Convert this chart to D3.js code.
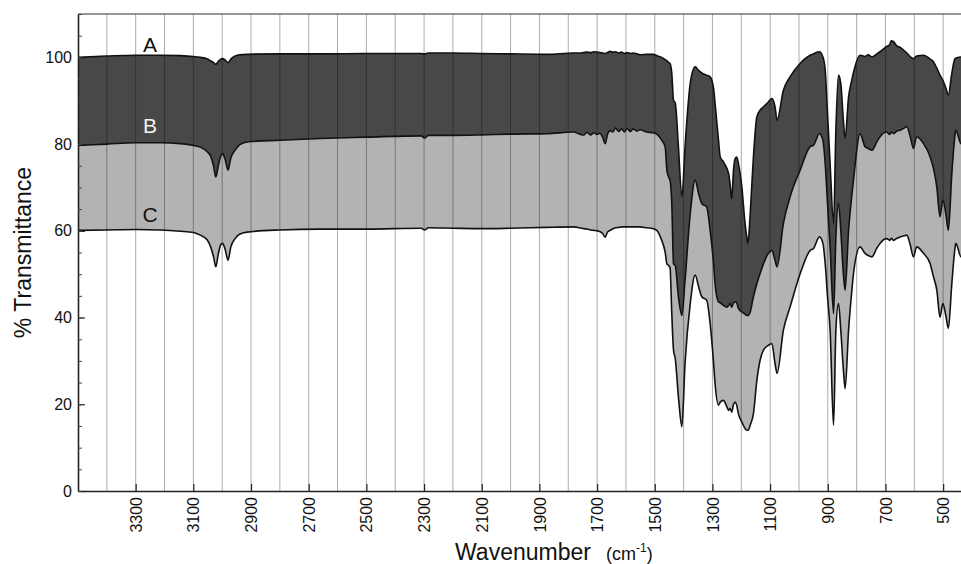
<!DOCTYPE html>
<html>
<head>
<meta charset="utf-8">
<script src="https://cdn.jsdelivr.net/npm/d3@7"></script>
<style>
  body { margin: 0; background: #fff; }
  svg { display: block; font-family: "Liberation Sans", Arial, Helvetica, sans-serif; }
</style>
</head>
<body>
<svg id="chart" width="961" height="564"></svg>
<script>
// wavenumber (cm-1) and % transmittance of the three offset spectra
var wavenumber = [3500, 3400, 3300, 3215, 3145, 3100, 3076, 3053, 3040, 3030, 3022, 3014, 3005, 2999, 2990, 2980, 2970, 2955, 2940, 2914,
  2800, 2660, 2500, 2310, 2298, 2285, 2200, 2105, 2000, 1874, 1782, 1760, 1747, 1735, 1722, 1712, 1700, 1690, 1681, 1672,
  1664, 1655, 1645, 1636, 1625, 1615, 1605, 1595, 1585, 1575, 1562, 1551, 1528, 1505, 1493, 1476, 1464, 1458, 1452, 1447,
  1441, 1435, 1429, 1418, 1406, 1395, 1377, 1360, 1348, 1337, 1320, 1308, 1296, 1291, 1279, 1273, 1262, 1250, 1244, 1239,
  1233, 1227, 1221, 1216, 1210, 1198, 1187, 1181, 1177, 1169, 1158, 1146, 1135, 1123, 1106, 1094, 1083, 1076, 1054, 1031,
  996, 961, 950, 929, 917, 909, 901, 892, 880, 872, 863, 855, 846, 840, 828, 817, 811, 788, 771, 760,
  747, 730, 719, 696, 685, 680, 672, 660, 649, 638, 626, 615, 603, 592, 568, 545, 534, 522, 511, 501,
  491, 482, 470, 459, 456, 438, 420];

var seriesA = [100.0, 100.3, 100.5, 100.5, 100.4, 100.2, 100.0, 99.7, 99.2, 98.8, 98.4, 99.0, 99.6, 99.7, 99.4, 98.8, 99.6, 100.3, 100.6, 100.7,
  100.8, 100.8, 100.9, 100.9, 100.8, 101.0, 101.0, 100.9, 100.8, 100.7, 101.0, 101.0, 101.1, 101.2, 101.1, 101.3, 101.2, 101.1, 101.0, 100.9,
  101.1, 101.4, 101.2, 101.3, 101.0, 101.2, 100.9, 101.1, 100.9, 101.0, 100.8, 100.6, 100.7, 100.7, 100.4, 100.0, 99.5, 99.2, 98.8, 98.6,
  96.3, 90.1, 89.5, 79.4, 67.8, 79.4, 94.0, 97.8, 97.0, 96.4, 95.9, 95.5, 92.8, 89.4, 80.9, 77.0, 75.9, 74.4, 73.2, 70.9,
  67.4, 74.0, 76.7, 77.0, 75.5, 70.1, 61.7, 58.6, 57.1, 64.0, 77.0, 86.3, 87.8, 88.6, 89.7, 90.5, 88.6, 85.5, 92.4, 95.5,
  98.6, 100.5, 100.8, 101.3, 100.1, 97.0, 87.0, 75.5, 61.7, 83.2, 95.9, 94.0, 85.5, 81.3, 90.9, 94.7, 96.5, 100.5, 100.2, 100.6,
  100.1, 100.8, 101.3, 102.5, 103.0, 103.8, 103.6, 102.6, 102.3, 101.7, 101.0, 100.2, 99.7, 100.3, 100.5, 99.6, 99.0, 97.5, 95.9, 94.7,
  93.0, 91.3, 96.3, 99.7, 99.8, 100.1, 100.2];

var seriesB = [79.7, 80.0, 80.3, 80.3, 80.1, 79.7, 79.3, 78.3, 77.2, 75.0, 72.4, 74.8, 77.3, 77.8, 76.5, 74.0, 76.8, 78.6, 79.8, 80.5,
  80.9, 81.3, 81.6, 81.9, 81.4, 82.0, 82.0, 82.1, 82.3, 82.4, 82.8, 82.3, 82.1, 82.7, 82.1, 82.6, 82.2, 82.5, 81.6, 80.1,
  82.2, 83.1, 82.8, 83.7, 82.9, 83.5, 82.8, 83.6, 82.9, 83.5, 83.0, 83.3, 82.8, 82.6, 82.3, 80.9, 79.4, 74.0, 72.4, 71.7,
  66.3, 52.4, 52.0, 44.8, 40.5, 48.6, 64.0, 71.7, 68.6, 66.3, 65.5, 60.1, 52.4, 47.8, 43.6, 43.4, 42.8, 42.4, 42.8, 43.2,
  42.4, 43.4, 43.6, 43.4, 42.1, 41.3, 40.8, 40.5, 40.5, 41.3, 44.8, 47.8, 50.1, 52.4, 54.8, 55.5, 53.2, 51.7, 61.7, 67.8,
  74.0, 79.4, 79.7, 82.4, 80.9, 75.5, 66.3, 56.3, 40.9, 58.6, 66.3, 60.1, 50.0, 46.3, 60.1, 68.0, 71.7, 82.4, 79.4, 79.0,
  78.6, 80.5, 81.7, 82.8, 82.2, 82.8, 82.4, 83.0, 83.2, 83.6, 84.0, 82.0, 79.0, 81.7, 80.1, 77.0, 74.5, 70.1, 63.2, 67.1,
  64.0, 60.1, 73.2, 82.0, 83.2, 80.1, 80.5];

var seriesC = [60.1, 60.2, 60.3, 60.2, 59.9, 59.6, 59.0, 58.0, 56.3, 54.0, 51.7, 54.5, 56.8, 57.1, 55.8, 53.2, 56.3, 58.2, 59.2, 59.7,
  60.2, 60.4, 60.4, 60.6, 60.2, 60.7, 60.6, 60.5, 60.6, 60.8, 60.9, 60.7, 60.5, 60.4, 60.2, 60.1, 60.0, 59.8, 59.4, 58.5,
  59.7, 60.1, 60.5, 60.7, 60.8, 60.9, 60.9, 60.9, 60.9, 60.9, 60.9, 60.9, 60.7, 60.5, 60.1, 57.8, 55.1, 52.4, 52.0, 51.5,
  40.9, 32.5, 30.5, 21.7, 14.8, 29.4, 43.2, 49.8, 47.1, 44.8, 44.0, 38.6, 29.4, 24.8, 19.8, 20.5, 20.9, 19.4, 18.6, 19.0,
  18.2, 20.0, 20.5, 19.8, 17.8, 15.9, 14.4, 14.0, 14.0, 15.2, 17.8, 25.5, 30.1, 32.5, 33.6, 34.0, 29.4, 27.1, 37.1, 42.4,
  50.1, 55.5, 55.9, 58.6, 57.1, 52.4, 44.8, 37.1, 15.2, 37.1, 43.2, 37.1, 28.0, 23.6, 37.1, 46.0, 50.1, 56.3, 54.8, 54.3,
  54.0, 56.0, 57.1, 58.2, 57.8, 58.3, 57.8, 58.3, 58.6, 58.8, 59.0, 57.0, 54.0, 56.3, 54.8, 52.4, 49.5, 46.3, 40.1, 43.2,
  40.5, 37.5, 47.8, 56.0, 57.1, 54.0, 54.5];

var xTicks = [3300, 3100, 2900, 2700, 2500, 2300, 2100, 1900, 1700, 1500, 1300, 1100, 900, 700, 500];
var xGrid = d3.range(3400, 399, -100);
var yTicks = [0, 20, 40, 60, 80, 100];
var yMinor = d3.range(0, 111, 5);
var seriesNames = ["A", "B", "C"];

var svg = d3.select("#chart");
var plotL = 78, plotR = 972, plotT = 14, plotB = 491;

var x = d3.scaleLinear().domain([3500, 400]).range([plotL, plotR]);
var y = d3.scaleLinear().domain([0, 110]).range([plotB, plotT]);

var rows = wavenumber.map(function(w, i) {
  return { w: w, a: seriesA[i], b: seriesB[i], c: seriesC[i] };
});

// fills between the curves
var bandAB = d3.area().curve(d3.curveMonotoneX)
  .x(function(d) { return x(d.w); })
  .y0(function(d) { return y(d.b); })
  .y1(function(d) { return y(d.a); });
var bandBC = d3.area().curve(d3.curveMonotoneX)
  .x(function(d) { return x(d.w); })
  .y0(function(d) { return y(d.c); })
  .y1(function(d) { return y(d.b); });

svg.append("path").datum(rows).attr("d", bandAB).attr("fill", "#484848");
svg.append("path").datum(rows).attr("d", bandBC).attr("fill", "#b3b3b3");

// vertical grid
svg.append("g").selectAll("line").data(xGrid).join("line")
  .attr("x1", function(d) { return x(d); }).attr("x2", function(d) { return x(d); })
  .attr("y1", plotT).attr("y2", plotB)
  .attr("stroke", "#000").attr("stroke-opacity", 0.33).attr("stroke-width", 1);

// spectra
["a", "b", "c"].forEach(function(k) {
  var line = d3.line().curve(d3.curveMonotoneX)
    .x(function(d) { return x(d.w); })
    .y(function(d) { return y(d[k]); });
  svg.append("path").datum(rows).attr("d", line)
    .attr("fill", "none").attr("stroke", "#111").attr("stroke-width", 1.6)
    .attr("stroke-linejoin", "round");
});

// top border
svg.append("line").attr("x1", plotL).attr("x2", plotR).attr("y1", plotT).attr("y2", plotT)
  .attr("stroke", "#333").attr("stroke-width", 1.2);

// x axis
var xAxis = svg.append("g").attr("transform", "translate(0," + plotB + ")")
  .call(d3.axisBottom(x).tickValues(xTicks).tickSizeInner(-7).tickSizeOuter(0).tickFormat(d3.format("d")));
xAxis.select(".domain").attr("stroke", "#222").attr("stroke-width", 1.6);
xAxis.selectAll(".tick line").attr("stroke", "#222").attr("stroke-width", 1.2);
xAxis.selectAll("text")
  .attr("transform", "rotate(-90)")
  .attr("x", -6).attr("y", 0).attr("dy", "0.35em")
  .style("text-anchor", "end")
  .attr("font-size", 16).attr("fill", "#111");
xAxis.attr("font-family", null);

// y axis
var yAxis = svg.append("g").attr("transform", "translate(" + plotL + ",0)")
  .call(d3.axisLeft(y).tickValues(yTicks).tickSizeInner(-7).tickSizeOuter(0).tickPadding(6));
yAxis.select(".domain").attr("stroke", "#222").attr("stroke-width", 1.6);
yAxis.selectAll(".tick line").attr("stroke", "#222").attr("stroke-width", 1.2);
yAxis.selectAll("text").attr("font-size", 16).attr("fill", "#111");
yAxis.attr("font-family", null);

svg.append("g").attr("transform", "translate(" + plotL + ",0)")
  .call(d3.axisLeft(y).tickValues(yMinor).tickSizeInner(-4).tickSizeOuter(0).tickFormat(""))
  .call(function(g) {
    g.select(".domain").remove();
    g.selectAll(".tick line").attr("stroke", "#444").attr("stroke-width", 1);
  });

// series labels
var labelPos = [[3250, 101.3, "#111"], [3250, 82.5, "#f2f2f2"], [3250, 62.0, "#111"]];
svg.append("g").selectAll("text").data(seriesNames).join("text")
  .attr("x", function(d, i) { return x(labelPos[i][0]); })
  .attr("y", function(d, i) { return y(labelPos[i][1]); })
  .attr("text-anchor", "middle")
  .attr("font-size", 21)
  .attr("fill", function(d, i) { return labelPos[i][2]; })
  .text(function(d) { return d; });

// axis titles
svg.append("text")
  .attr("transform", "translate(31," + ((plotT + plotB) / 2) + ") rotate(-90)")
  .attr("text-anchor", "middle")
  .attr("font-size", 23).attr("fill", "#111")
  .text("% Transmittance");

var xt = svg.append("text").attr("x", 455).attr("y", 560).attr("fill", "#111");
xt.append("tspan").attr("font-size", 23).text("Wavenumber");
xt.append("tspan").attr("x", 606).attr("font-size", 18).text("(cm");
xt.append("tspan").attr("font-size", 12).attr("dy", -8).text("-1");
xt.append("tspan").attr("font-size", 18).attr("dy", 8).text(")");
</script>
</body>
</html>
